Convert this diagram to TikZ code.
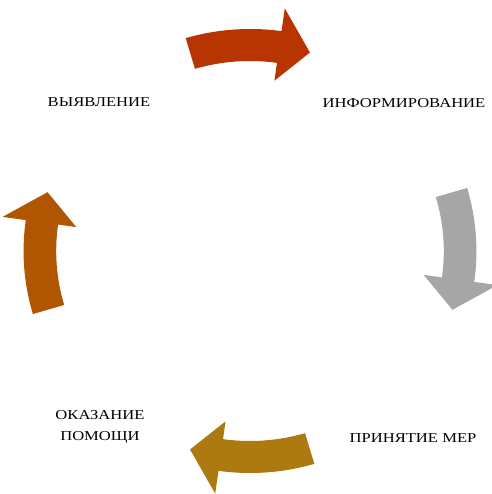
\documentclass[tikz,border=0pt]{standalone}
\usepackage{fontspec}
\setmainfont{Liberation Serif}
\usetikzlibrary{calc}

\definecolor{arrowRed}{HTML}{B83400}
\definecolor{arrowGray}{HTML}{A6A6A6}
\definecolor{arrowGold}{HTML}{AC7A10}
\definecolor{arrowBrown}{HTML}{B05500}

% wide capitals, as in the reference
\newcommand{\widecaps}[1]{\scalebox{1.22}[1]{#1}}

\tikzset{
  steplabel/.style={font=\fontsize{13.6}{21}\selectfont, align=center, inner sep=0pt}
}

\begin{document}
\begin{tikzpicture}[x=1pt,y=1pt]

% --- Geometry settings ---
\def\rIn{190}     % inner radius of the arrow band
\def\rOut{222}    % outer radius of the arrow band
\def\rMid{207}    % radius of the arrow tip
\def\rWi{172}     % inner wing of the head
\def\rWo{245}     % outer wing of the head
\def\bodyA{24.5}  % angular length of the band
\def\tipA{33}     % angular length up to the tip

% --- Page frame ---
\useasboundingbox (-250,-243) rectangle (241,251);

% --- Four curved block arrows, clockwise ---
\begin{scope}[xscale=1.02]
\foreach \tail/\col in {106.5/arrowRed, 16.5/arrowGray, -73.5/arrowGold, -163.5/arrowBrown} {
  \fill[\col]
    (\tail:\rIn) arc[start angle=\tail, end angle={\tail-\bodyA}, radius=\rIn]
    -- ({\tail-\bodyA}:\rWi) -- ({\tail-\tipA}:\rMid) -- ({\tail-\bodyA}:\rWo)
    -- ({\tail-\bodyA}:\rOut) arc[start angle={\tail-\bodyA}, end angle=\tail, radius=\rOut]
    -- cycle;
}
\end{scope}

% --- Labels ---
\node[steplabel] (detect) at (-151,149) {\widecaps{ВЫЯВЛЕНИЕ}};
\node[steplabel] (inform) at (154,148) {\widecaps{ИНФОРМИРОВАНИЕ}};
\node[steplabel] (measures) at (163,-187) {\widecaps{ПРИНЯТИЕ МЕР}};
\node[steplabel] (help) at (-150,-176) {\widecaps{ОКАЗАНИЕ}\\\widecaps{ПОМОЩИ}};

\end{tikzpicture}
\end{document}
